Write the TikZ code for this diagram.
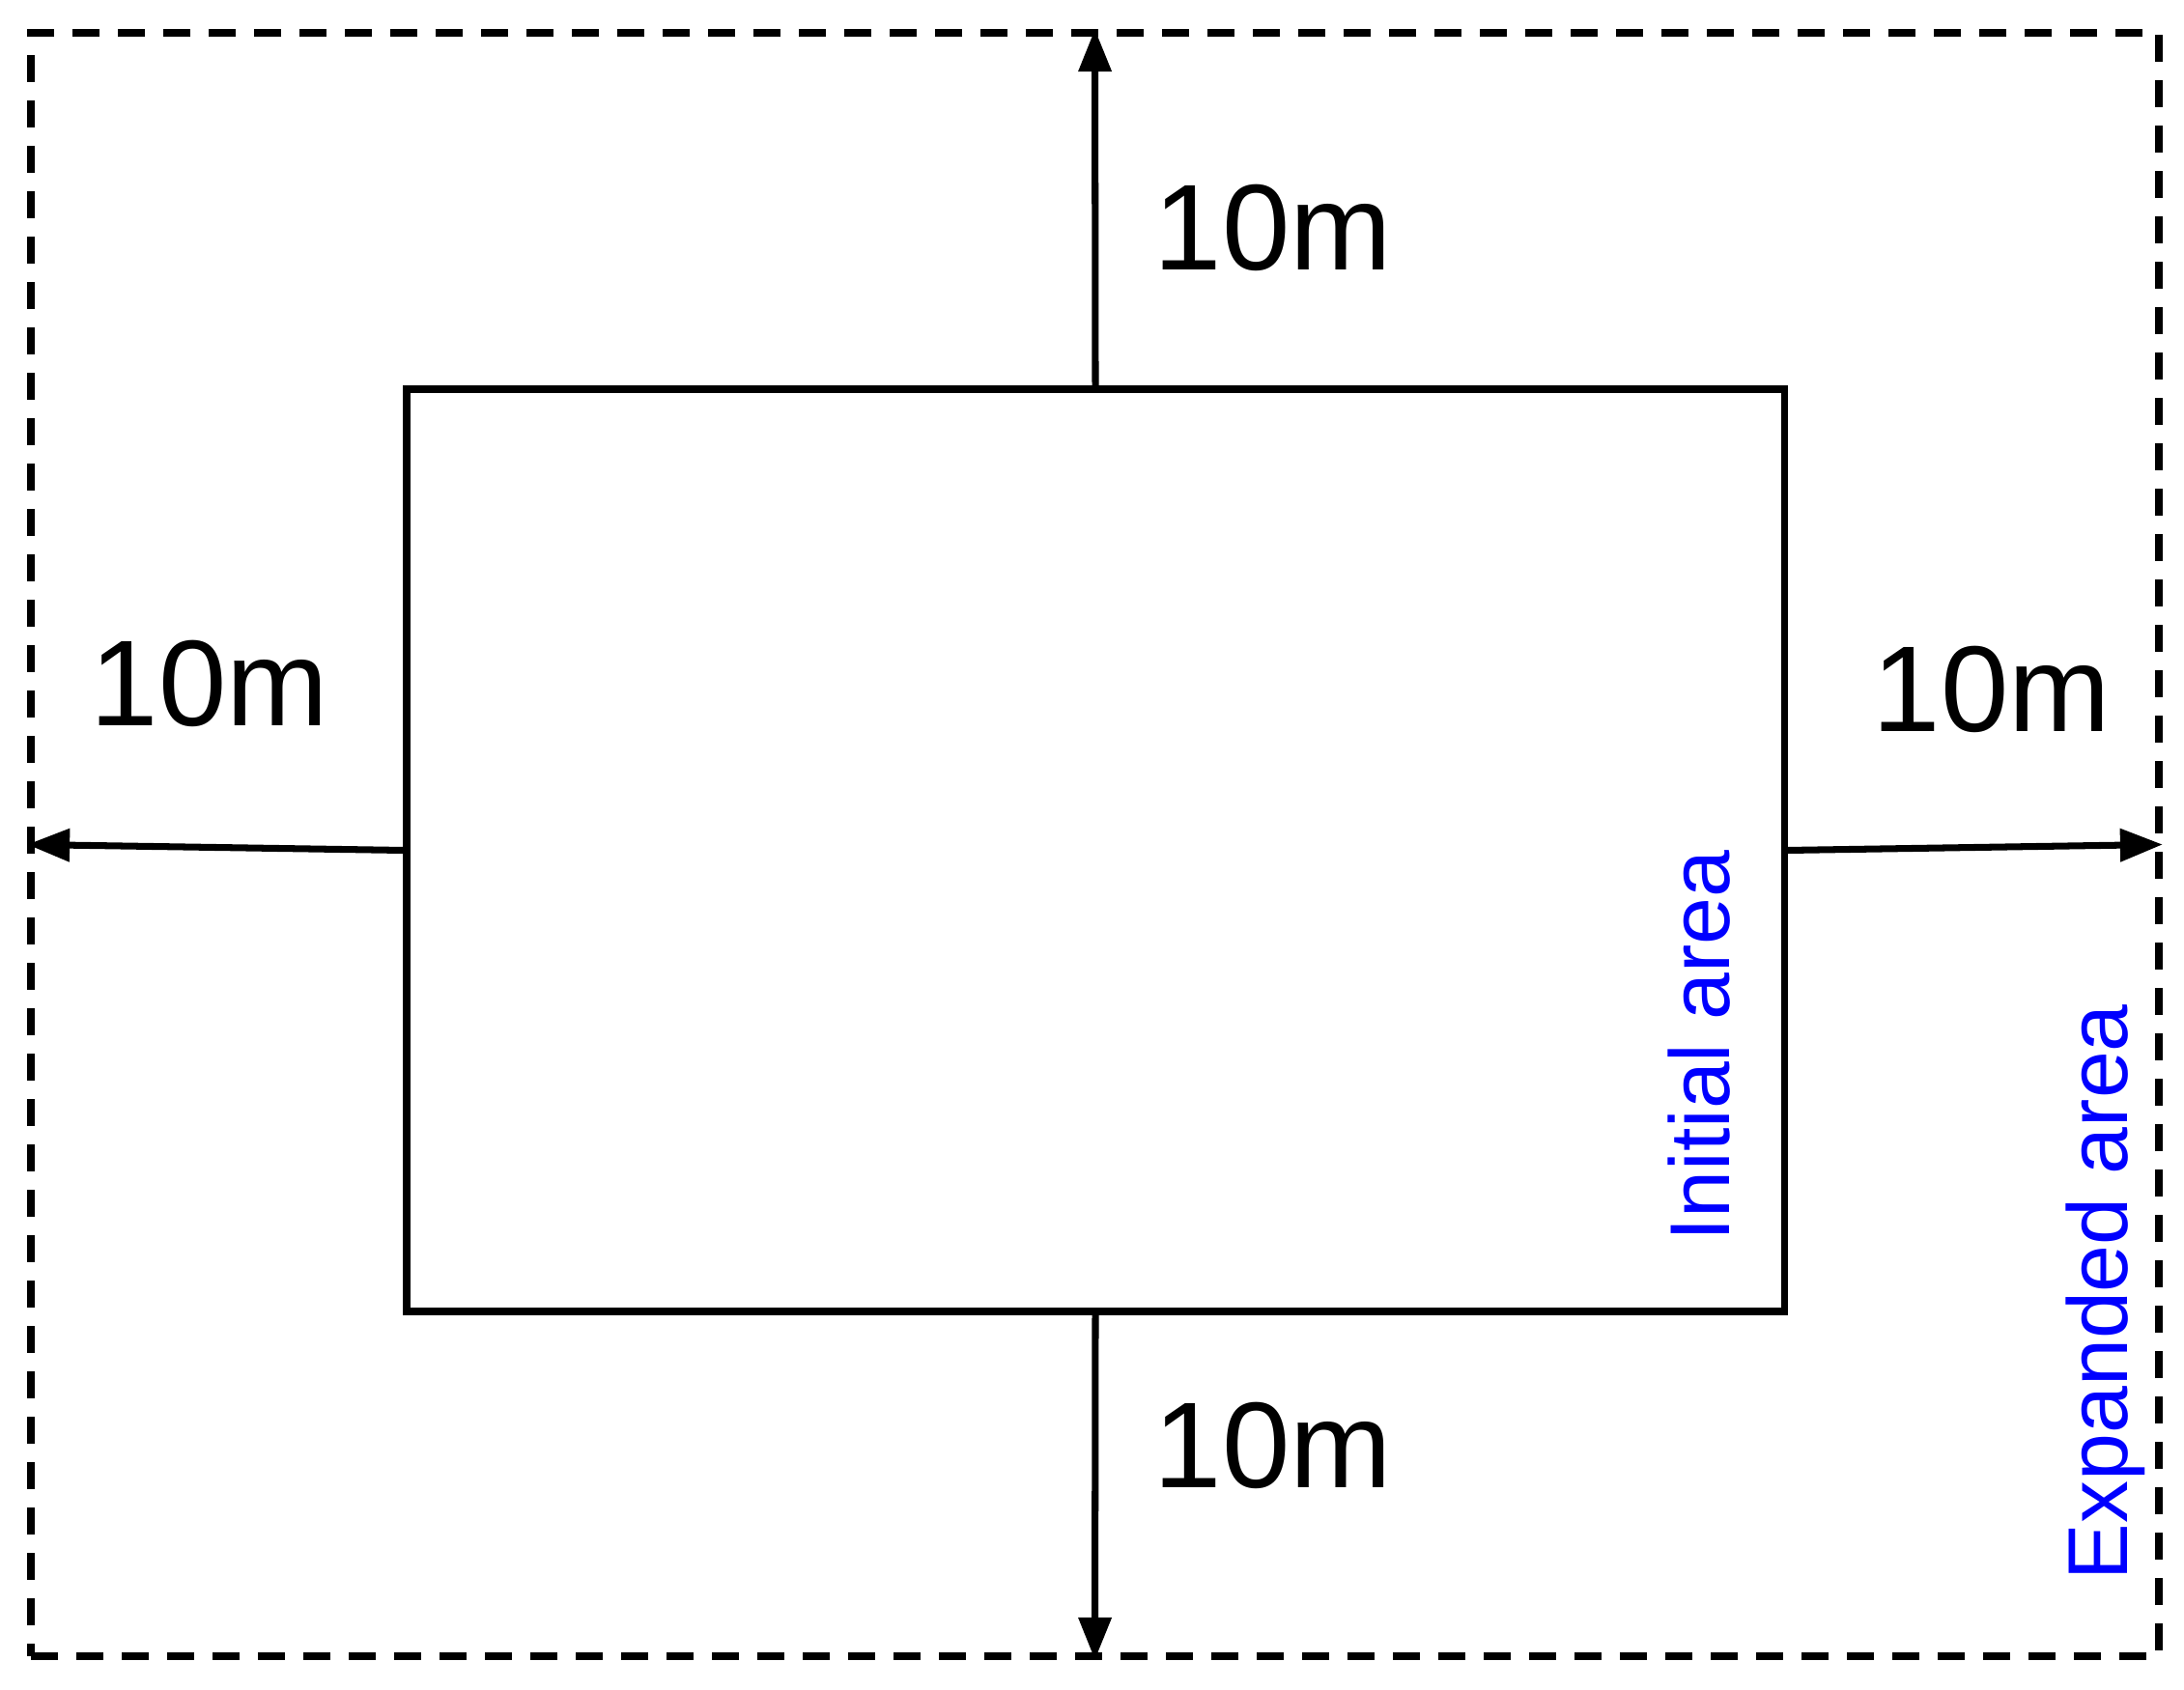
\documentclass[tikz,border=0pt]{standalone}
\usepackage{fontspec}
\setmainfont{Liberation Sans}
\usetikzlibrary{arrows.meta}

\begin{document}
\begin{tikzpicture}[
        area/.style={draw, line width=2pt, inner sep=0pt},
        growarea/.style={draw, line width=2.2pt, dash pattern=on 0.28cm off 0.19cm, inner sep=0pt},
        growarrow/.style={line width=2pt, -{Triangle[length=0.44cm, width=0.33cm]}},
        dist/.style={font=\fontsize{36}{40}\selectfont, inner sep=0pt, anchor=base},
        note/.style={font=\fontsize{25}{28}\selectfont, text=blue, inner sep=0pt, anchor=base, rotate=90}]
        \useasboundingbox (0, 0) rectangle (22.61, 17.49);

        \node[growarea, minimum width=22.03cm, minimum height=16.81cm] (expanded) at (11.335, 8.745) {};
        \node[area, minimum width=14.26cm, minimum height=9.55cm] (initial) at (11.34, 8.685) {};

        \draw[growarrow] (initial.north) -- (expanded.north);
        \draw[growarrow] (initial.south) -- (expanded.south);
        \draw[growarrow] (initial.west) -- (expanded.west);
        \draw[growarrow] (initial.east) -- (expanded.east);

        \node[dist] (dtop) at (13.18, 14.69) {10m};
        \node[dist] (dbottom) at (13.18, 2.09) {10m};
        \node[dist] (dleft) at (2.17, 9.97) {10m};
        \node[dist] (dright) at (20.62, 9.91) {10m};

        \node[note] (initlabel) at (17.90, 6.66) {Initial area};
        \node[note] (expandedlabel) at (22.02, 4.11) {Expanded area};
    \end{tikzpicture}
\end{document}
